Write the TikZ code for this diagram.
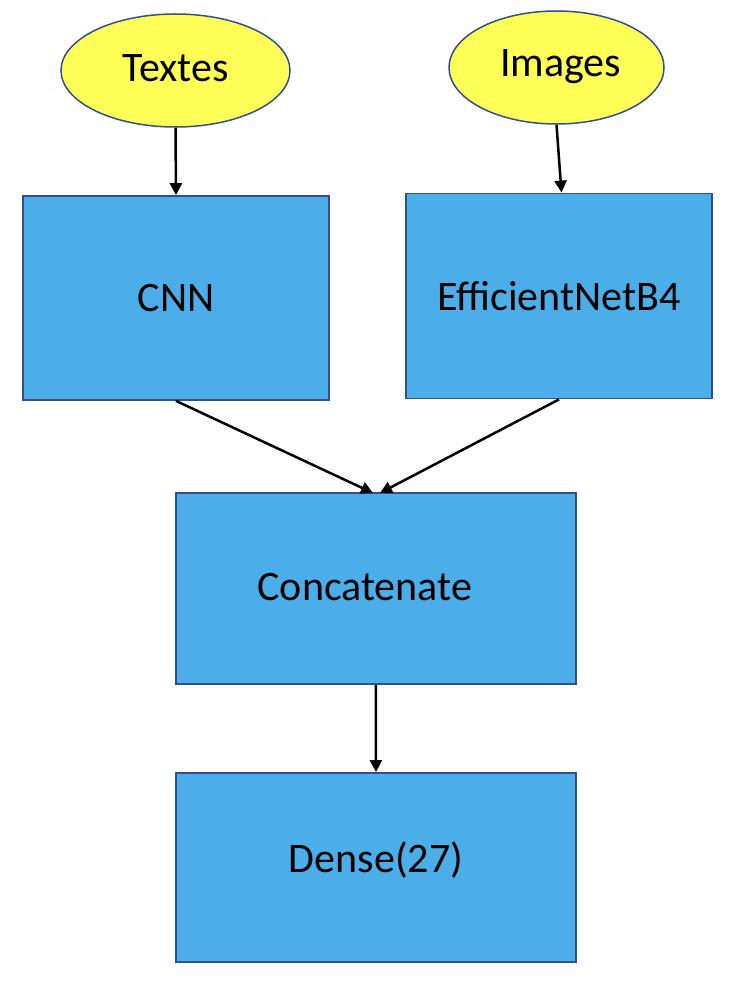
\documentclass[tikz,border=0pt]{standalone}
\usepackage{fontspec}
\setmainfont{Carlito}
\usetikzlibrary{shapes.geometric,arrows.meta}
\definecolor{boxfill}{HTML}{4BAEE8}
\definecolor{boxline}{HTML}{2F528F}
\definecolor{ellfill}{HTML}{FFFF57}
\newcommand{\lblfont}{\fontsize{42}{50}\selectfont}
\tikzset{
  blk/.style={draw=boxline, line width=1.8pt, fill=boxfill, rectangle, inner sep=0pt,
    font=\lblfont},
  ell/.style={draw=boxline, line width=1.5pt, fill=ellfill, ellipse, inner sep=0pt,
    font=\lblfont},
  lbl/.style={font=\lblfont, inner sep=0pt},
  conn/.style={line width=2.5pt, -{Triangle[width=12pt,length=12pt]}}
}
\begin{document}
\begin{tikzpicture}[x=1pt,y=-1pt]
\useasboundingbox (0,0) rectangle (728,1000);
\node[ell, minimum width=229pt, minimum height=113pt] (tx) at (175.5,70.5) {};
\node[lbl] at ([yshift=2pt]tx.center) {Textes};
\node[ell, minimum width=215pt, minimum height=113pt] (im) at (556.5,67.5) {};
\node[lbl] at ([xshift=4pt,yshift=1pt]im.center) {Images};
\node[blk, minimum width=306pt, minimum height=204pt] (cnn) at (176,298) {CNN};
\node[blk, minimum width=306pt, minimum height=205pt] (eff) at (559,296) {EfficientNetB4};
\node[blk, minimum width=400pt, minimum height=191pt] (cat) at (375.8,588.7) {};
\node[lbl] at ([xshift=-11pt,yshift=2pt]cat.center) {Concatenate};
\node[blk, minimum width=400pt, minimum height=189pt] (den) at (376,867.5) {};
\node[lbl] at ([yshift=7pt]den.center) {Dense(27)};
\coordinate (catA) at (373,493);
\coordinate (catB) at (380,493);
\draw[conn] (tx.south) -- (cnn.north);
\draw[conn] (im.south) -- ([xshift=2.5pt]eff.north);
\draw[conn] (cnn.south) -- (catA);
\draw[conn] (eff.south) -- (catB);
\draw[conn] (cat.south) -- (den.north);
\end{tikzpicture}
\end{document}
